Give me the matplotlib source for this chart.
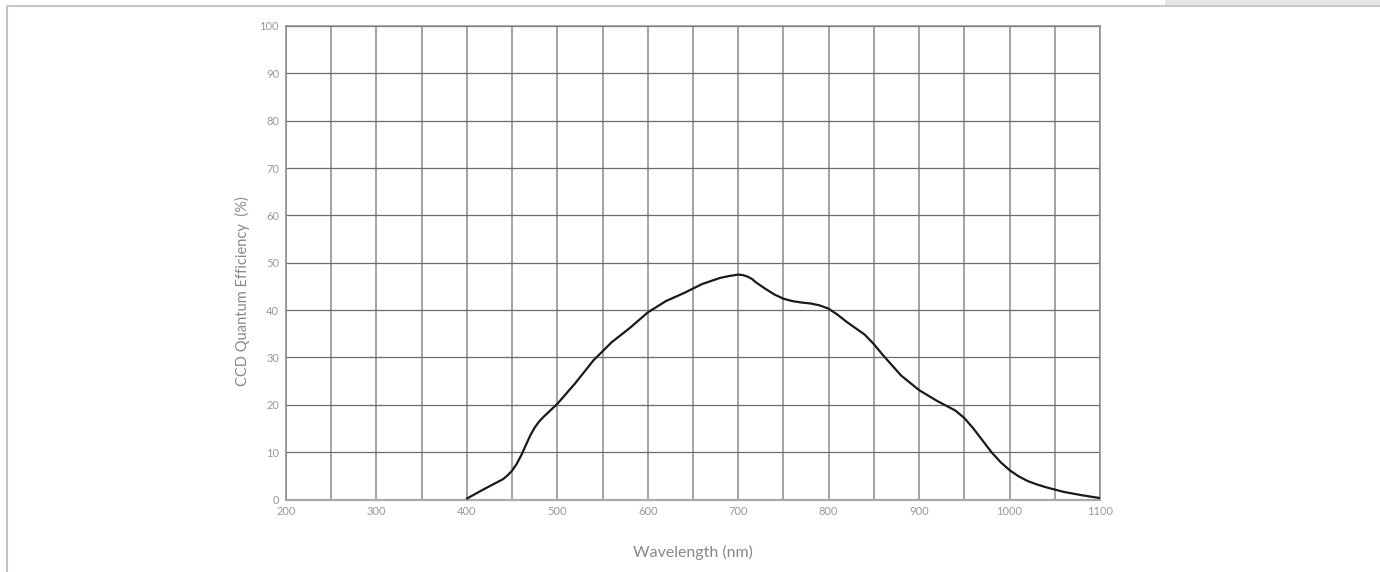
import matplotlib
matplotlib.use("Agg")
import matplotlib.pyplot as plt
from matplotlib.patches import Rectangle
from matplotlib.lines import Line2D

# CCD quantum efficiency curve
wavelength = [400, 420, 440, 445, 450, 455, 460, 465, 470, 475, 480, 485, 490,
              500, 520, 540, 560, 580, 600, 620, 640, 660, 680, 690, 700, 705,
              710, 715, 720, 730, 740, 750, 760, 770, 780, 790, 800, 810, 820,
              840, 850, 860, 880, 900, 920, 940, 950, 960, 970, 980, 990, 1000,
              1010, 1020, 1030, 1040, 1060, 1080, 1100]
qe = [0.2, 2.3, 4.3, 5.1, 6.1, 7.5, 9.3, 11.4, 13.5, 15.2, 16.5, 17.5, 18.4,
      20.2, 24.6, 29.4, 33.2, 36.2, 39.5, 41.9, 43.6, 45.5, 46.8, 47.2, 47.5, 47.4,
      47.1, 46.6, 45.8, 44.5, 43.3, 42.4, 41.9, 41.6, 41.4, 41.0, 40.3, 39.0, 37.5,
      34.8, 32.8, 30.5, 26.2, 23.1, 20.8, 18.8, 17.2, 15.0, 12.5, 10.0, 7.9, 6.2,
      4.9, 3.9, 3.2, 2.6, 1.6, 0.9, 0.3]

x_ticks = list(range(200, 1101, 100))
x_grid = list(range(200, 1101, 50))
y_ticks = list(range(0, 101, 10))

plt.rcParams["font.family"] = ["Lato", "DejaVu Sans"]

fig = plt.figure(figsize=(13.8, 5.72), dpi=100)

# page frame: thin gray line left and top, light band at top right
fig.add_artist(Line2D([6.5 / 1380, 6.5 / 1380], [0, 1 - 6 / 572],
                      transform=fig.transFigure, color="#c4c4c4", lw=1.5))
fig.add_artist(Line2D([6.5 / 1380, 1], [1 - 6 / 572, 1 - 6 / 572],
                      transform=fig.transFigure, color="#c8c8c8", lw=1.5))
fig.add_artist(Rectangle((1165 / 1380, 1 - 6 / 572), 1, 6 / 572,
                         transform=fig.transFigure, color="#e6e6e6", lw=0))

ax = fig.add_axes([286 / 1380, 1 - 499.5 / 572, 814 / 1380, 473.5 / 572])

for xv in x_grid:
    ax.axvline(xv, color="#8a8a8a", lw=1.1, zorder=1)
for yv in y_ticks[1:]:
    ax.axhline(yv, color="#6e6e6e", lw=0.9, zorder=1)

ax.plot(wavelength, qe, color="#1a1a1a", lw=1.6, zorder=3,
        solid_joinstyle="round", solid_capstyle="round")

ax.set_xlim(200, 1100)
ax.set_ylim(0, 100)
ax.set_xticks(x_ticks)
ax.set_yticks(y_ticks)
ax.tick_params(length=0, labelsize=8, labelcolor="#999999", pad=5)

for side in ["top", "right", "left"]:
    ax.spines[side].set_color("#8a8a8a")
    ax.spines[side].set_linewidth(1.1)
ax.spines["bottom"].set_color("#aaaaaa")
ax.spines["bottom"].set_linewidth(1.6)

ax.set_xlabel("Wavelength (nm)", fontsize=11.5, color="#888888", labelpad=20)
ax.set_ylabel("CCD Quantum Efficiency  (%)", fontsize=10.5, color="#888888")
ax.yaxis.set_label_coords(-0.044, 0.44)

fig.savefig("out.png", dpi=100)
